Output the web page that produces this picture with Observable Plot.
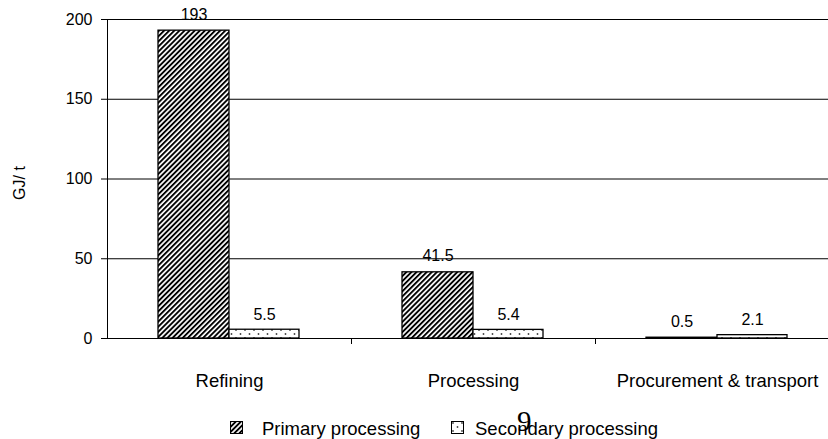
<!DOCTYPE html>
<html><head><meta charset="utf-8">
<script src="https://cdn.jsdelivr.net/npm/d3@7"></script>
<script src="https://cdn.jsdelivr.net/npm/@observablehq/plot@0.6"></script>
<style>
html,body{margin:0;padding:0;background:#fff;overflow:hidden;width:828px;height:439px}
#chart{position:absolute;left:0;top:0;width:840px}
#chart svg{max-width:none !important;width:840px !important;height:405px !important}
.lg{position:absolute;font:18.5px "Liberation Sans",Arial,sans-serif;color:#000;white-space:nowrap;line-height:20px}
.sw{position:absolute;width:13px;height:13px}
.ylab{position:absolute;font:16px "Liberation Sans",Arial,sans-serif;left:20px;top:183px;transform:translate(-50%,-50%) rotate(-90deg);white-space:nowrap}
.pg{position:absolute;font:29px "Liberation Serif",serif;left:517px;top:407px;line-height:29px}
</style></head><body>
<div id="chart"></div>
<div id="legend"></div>
<script>
const categories = ["Refining", "Processing", "Procurement & transport"];
const seriesNames = ["Primary processing", "Secondary processing"];
const primaryValues = [193, 41.5, 0.5];
const secondaryValues = [5.5, 5.4, 2.1];
const yTicks = [0, 50, 100, 150, 200];
const yLabel = "GJ/ t";
const pageMark = "9";

const primary = categories.map((c, i) => ({category: c, series: seriesNames[0], value: primaryValues[i]}));
const secondary = categories.map((c, i) => ({category: c, series: seriesNames[1], value: secondaryValues[i]}));

const font = '"Liberation Sans", Arial, sans-serif';
const half = (840 - 107 - 1) / categories.length / 2;

const plot = Plot.plot({
  width: 840, height: 405,
  marginLeft: 107, marginRight: 1, marginTop: 19, marginBottom: 67,
  style: {fontFamily: font, fontSize: "16px", color: "#000", background: "transparent"},
  x: {domain: categories, padding: 0, axis: null},
  y: {domain: [0, 200], axis: null},
  marks: [
    Plot.ruleY(yTicks, {stroke: "#000", strokeWidth: 1}),
    Plot.barY(primary, {x: "category", y: "value", fill: "url(#hatch)", stroke: "#000", strokeWidth: 1.3, insetLeft: half - 71, insetRight: half}),
    Plot.barY(secondary, {x: "category", y: "value", fill: "url(#dots)", stroke: "#000", strokeWidth: 1.3, insetLeft: half, insetRight: half - 70}),
    Plot.text(primary, {x: "category", y: "value", text: d => String(d.value), dx: -35.5, dy: -16, fontSize: 16}),
    Plot.text(secondary, {x: "category", y: "value", text: d => String(d.value), dx: 35, dy: -15, fontSize: 16}),
    Plot.ruleX([categories[0]], {y1: 0, y2: 200, dx: -half, stroke: "#000"}),
    Plot.axisY(yTicks, {anchor: "left", tickSize: 6, tickPadding: 9, label: null, fontSize: 16}),
    Plot.axisX({anchor: "bottom", tickSize: 0, tickPadding: 35, label: null, fontSize: 18.5}),
    Plot.axisX(categories.slice(1), {anchor: "bottom", tickSize: 6, tickFormat: () => "", label: null, dx: -half})
  ]
});

document.getElementById("chart").appendChild(plot);

const svg = d3.select(plot);
const defs = svg.insert("defs", ":first-child");
const hatch = defs.append("pattern").attr("id", "hatch").attr("patternUnits", "userSpaceOnUse")
  .attr("width", 3.6).attr("height", 10).attr("patternTransform", "rotate(45)");
hatch.append("rect").attr("width", 3.6).attr("height", 10).attr("fill", "#fff");
hatch.append("rect").attr("width", 1.9).attr("height", 10).attr("fill", "#000");
const dots = defs.append("pattern").attr("id", "dots").attr("patternUnits", "userSpaceOnUse")
  .attr("width", 9).attr("height", 8);
dots.append("rect").attr("width", 9).attr("height", 8).attr("fill", "#fff");
dots.append("circle").attr("cx", 2).attr("cy", 2).attr("r", 0.9).attr("fill", "#444");
dots.append("circle").attr("cx", 6.5).attr("cy", 6).attr("r", 0.9).attr("fill", "#444");

// y label
const yl = document.createElement("div");
yl.className = "ylab"; yl.textContent = yLabel;
document.body.appendChild(yl);

// legend
const legend = document.getElementById("legend");
const items = [
  {name: seriesNames[0], fill: "url(#hatch)", sx: 230, tx: 262},
  {name: seriesNames[1], fill: "url(#dots)", sx: 451, tx: 475}
];
items.forEach(it => {
  const s = document.createElementNS("http://www.w3.org/2000/svg", "svg");
  s.setAttribute("class", "sw");
  s.setAttribute("width", 13); s.setAttribute("height", 13);
  s.style.left = it.sx + "px"; s.style.top = "421px";
  const r = document.createElementNS("http://www.w3.org/2000/svg", "rect");
  r.setAttribute("x", 0.5); r.setAttribute("y", 0.5); r.setAttribute("width", 12); r.setAttribute("height", 12);
  r.setAttribute("fill", it.fill); r.setAttribute("stroke", "#000");
  s.appendChild(r);
  legend.appendChild(s);
  const t = document.createElement("div");
  t.className = "lg"; t.textContent = it.name;
  t.style.left = it.tx + "px"; t.style.top = "419px";
  legend.appendChild(t);
});
const pg = document.createElement("div");
pg.className = "pg"; pg.textContent = pageMark;
document.body.appendChild(pg);
</script>
</body></html>
